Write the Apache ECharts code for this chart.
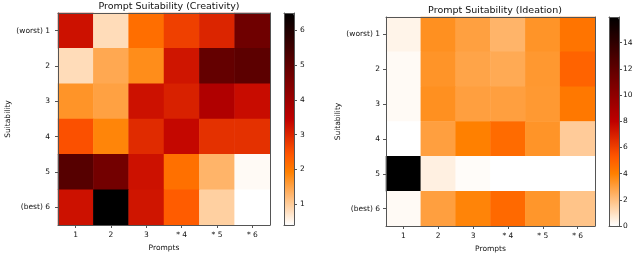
<!DOCTYPE html>
<html>
<head>
<meta charset="utf-8">
<script src="https://cdn.jsdelivr.net/npm/echarts@6/dist/echarts.min.js"></script>
<style>
html,body{margin:0;padding:0;background:#fff;}
#c{width:640px;height:269px;}
</style>
</head>
<body>
<div id="c"></div>
<script>
// ---- data ----
const prompts = ['1', '2', '3', '* 4', '* 5', '* 6'];
const suitability = ['(worst) 1', '2', '3', '4', '5', '(best) 6'];
// rows: suitability 1..6, columns: prompts 1..6
const creativity = [
  [3.25, 0.82, 2.13, 2.69, 3.00, 4.74],
  [0.82, 1.44, 1.77, 3.20, 4.91, 5.04],
  [1.68, 1.53, 3.25, 3.05, 3.69, 3.30],
  [2.49, 1.87, 2.93, 3.37, 2.86, 2.86],
  [5.13, 4.68, 3.25, 2.11, 1.30, 0.46],
  [3.25, 6.50, 3.20, 2.35, 0.96, 0.40]
];
const ideation = [
  [0.35, 3.48, 2.98, 2.35, 3.36, 4.36],
  [0.16, 3.36, 2.86, 2.67, 3.23, 4.86],
  [0.16, 3.48, 3.00, 3.00, 3.20, 4.24],
  [0.00, 3.00, 3.98, 4.61, 3.36, 1.60],
  [15.95, 0.48, 0.10, 0.00, 0.00, 0.00],
  [0.16, 3.00, 3.86, 4.67, 3.30, 1.85]
];
const creativityRange = [0.4, 6.5];
const ideationRange = [0, 15.95];
const creativityTicks = [1, 2, 3, 4, 5, 6];
const ideationTicks = [0, 2, 4, 6, 8, 10, 12, 14];

// ---- colormap (gist_heat reversed) ----
function gistHeatR(t) {
  const x = 1 - t;
  const cl = v => Math.max(0, Math.min(1, v));
  const r = cl(1.5 * x), g = cl(2 * x - 1), b = cl(4 * x - 3);
  const h = v => Math.round(v * 255).toString(16).padStart(2, '0');
  return '#' + h(r) + h(g) + h(b);
}
const cmap = [];
for (let k = 0; k <= 24; k++) cmap.push(gistHeatR(k / 24));

function toCells(m) {
  const out = [];
  m.forEach((row, yi) => row.forEach((v, xi) => out.push([xi, yi, v])));
  return out;
}

const FONT = 'DejaVu Sans';
const TXT = '#111';
const LINE = '#555';

function frameX(gi, pos) {
  return { type: 'value', gridIndex: gi, position: pos, show: true, z: 10,
    axisLine: { show: true, onZero: false, lineStyle: { color: LINE, width: 1 } },
    axisTick: { show: false }, axisLabel: { show: false }, splitLine: { show: false } };
}
function frameY(gi, pos) {
  return { type: 'value', gridIndex: gi, position: pos, show: true, z: 10,
    axisLine: { show: true, onZero: false, lineStyle: { color: LINE, width: 1 } },
    axisTick: { show: false }, axisLabel: { show: false }, splitLine: { show: false } };
}

function catX(gi, nameGap) {
  return { type: 'category', gridIndex: gi, data: prompts, position: 'bottom', z: 10,
    name: 'Prompts', nameLocation: 'middle', nameGap: nameGap,
    nameTextStyle: { fontFamily: FONT, fontSize: 7.5, color: TXT },
    axisLine: { show: true, onZero: false, lineStyle: { color: LINE } },
    axisTick: { show: true, alignWithLabel: true, length: 3, lineStyle: { color: LINE } },
    axisLabel: { fontFamily: FONT, fontSize: 7.5, color: TXT, margin: 6 },
    splitLine: { show: false } };
}
function catY(gi, nameGap, margin) {
  return { type: 'category', gridIndex: gi, data: suitability, inverse: true, position: 'left', z: 10,
    name: 'Suitability', nameLocation: 'middle', nameGap: nameGap, nameRotate: 90,
    nameTextStyle: { fontFamily: FONT, fontSize: 7.5, color: TXT },
    axisLine: { show: true, onZero: false, lineStyle: { color: LINE } },
    axisTick: { show: true, alignWithLabel: true, length: 3, lineStyle: { color: LINE } },
    axisLabel: { fontFamily: FONT, fontSize: 7.5, color: TXT, margin: margin },
    splitLine: { show: false } };
}
function barY(gi, range, ticks, margin) {
  return { type: 'value', gridIndex: gi, position: 'right', min: range[0], max: range[1], z: 10,
    axisLine: { show: true, onZero: false, lineStyle: { color: LINE } },
    axisTick: { show: true, length: 3, customValues: ticks, lineStyle: { color: LINE } },
    axisLabel: { fontFamily: FONT, fontSize: 7.5, color: TXT, margin: margin, customValues: ticks },
    splitLine: { show: false } };
}

const chart = echarts.init(document.getElementById('c'), null, { renderer: 'canvas' });
chart.setOption({
  animation: false,
  backgroundColor: '#fff',
  title: [
    { text: 'Prompt Suitability (Creativity)', left: 164, top: -3, textAlign: 'center',
      textStyle: { fontFamily: FONT, fontSize: 9.5, fontWeight: 'normal', color: '#111' } },
    { text: 'Prompt Suitability (Ideation)', left: 490, top: 1, textAlign: 'center',
      textStyle: { fontFamily: FONT, fontSize: 9.5, fontWeight: 'normal', color: '#111' } }
  ],
  grid: [
    { left: 58, top: 13, width: 212, height: 212 },
    { left: 284, top: 13, width: 10, height: 212 },
    { left: 386, top: 17, width: 209, height: 209 },
    { left: 609, top: 17, width: 10, height: 209 }
  ],
  xAxis: [
    catX(0, 17),
    frameX(0, 'top'),
    frameX(1, 'bottom'),
    frameX(1, 'top'),
    catX(2, 16),
    frameX(2, 'top'),
    frameX(3, 'bottom'),
    frameX(3, 'top')
  ],
  yAxis: [
    catY(0, 45, 8),
    frameY(0, 'right'),
    barY(1, creativityRange, creativityTicks, 6),
    frameY(1, 'left'),
    catY(2, 44, 6),
    frameY(2, 'right'),
    barY(3, ideationRange, ideationTicks, 4),
    frameY(3, 'left')
  ],
  visualMap: [
    { type: 'continuous', seriesIndex: 0, min: creativityRange[0], max: creativityRange[1],
      orient: 'vertical', left: 284, top: 13, itemWidth: 10, itemHeight: 212, padding: 0,
      calculable: false, hoverLink: false, text: null, inRange: { color: cmap } },
    { type: 'continuous', seriesIndex: 1, min: ideationRange[0], max: ideationRange[1],
      orient: 'vertical', left: 609, top: 17, itemWidth: 10, itemHeight: 209, padding: 0,
      calculable: false, hoverLink: false, text: null, inRange: { color: cmap } }
  ],
  series: [
    { type: 'heatmap', xAxisIndex: 0, yAxisIndex: 0, data: toCells(creativity),
      itemStyle: { borderWidth: 0 }, emphasis: { disabled: true }, progressive: 0 },
    { type: 'heatmap', xAxisIndex: 4, yAxisIndex: 4, data: toCells(ideation),
      itemStyle: { borderWidth: 0 }, emphasis: { disabled: true }, progressive: 0 }
  ]
});
</script>
</body>
</html>
